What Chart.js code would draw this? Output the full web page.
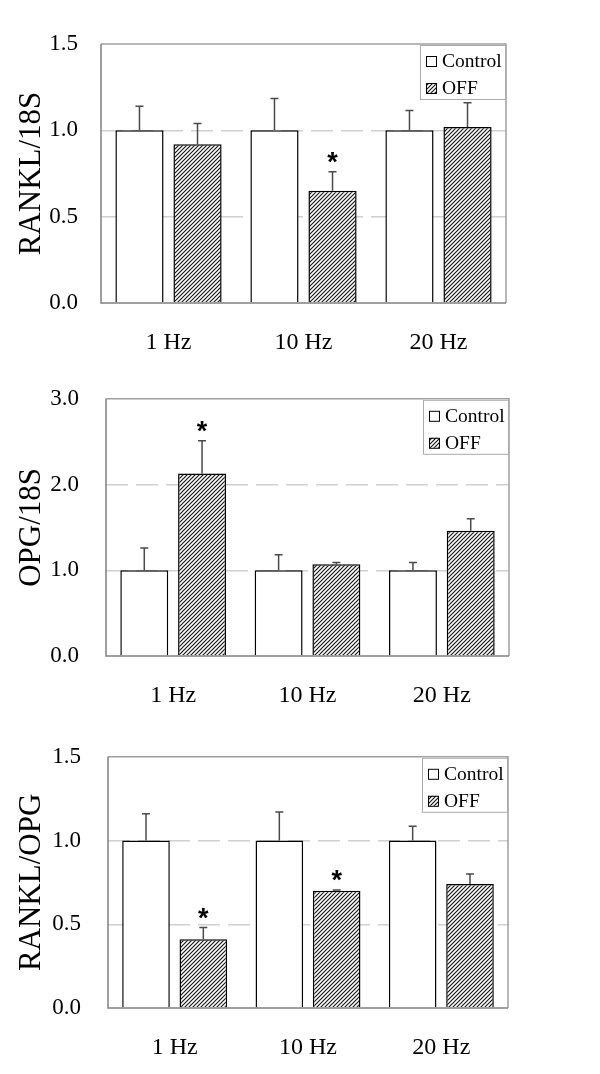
<!DOCTYPE html>
<html>
<head>
<meta charset="utf-8">
<script src="https://cdn.jsdelivr.net/npm/chart.js@4.4.1/dist/chart.umd.min.js"></script>
<style>
  body { margin: 0; background: #fff; }
  .panel { position: absolute; left: 0; width: 600px; height: 358px; }
</style>
</head>
<body>
<div class="panel" style="top:0"><canvas id="c1"></canvas></div>
<div class="panel" style="top:358px"><canvas id="c2"></canvas></div>
<div class="panel" style="top:716px"><canvas id="c3"></canvas></div>
<script>
const categories = ['1 Hz', '10 Hz', '20 Hz'];
const seriesNames = ['Control', 'OFF'];

// RANKL/18S
const ranklControl = [1.0, 1.0, 1.0];
const ranklControlErr = [0.14, 0.185, 0.115];
const ranklOff = [0.92, 0.65, 1.02];
const ranklOffErr = [0.12, 0.11, 0.14];
const ranklOffSig = [false, true, false];

// OPG/18S
const opgControl = [1.0, 1.0, 1.0];
const opgControlErr = [0.26, 0.18, 0.09];
const opgOff = [2.13, 1.07, 1.46];
const opgOffErr = [0.38, 0.02, 0.14];
const opgOffSig = [true, false, false];

// RANKL/OPG
const ratioControl = [1.0, 1.0, 1.0];
const ratioControlErr = [0.16, 0.17, 0.085];
const ratioOff = [0.41, 0.70, 0.74];
const ratioOffErr = [0.07, 0.005, 0.06];
const ratioOffSig = [true, true, false];

const noSig = [false, false, false];
const serif = "'Liberation Serif', 'Times New Roman', serif";

// diagonal hatch fill for the OFF bars
function makeHatch() {
  const s = 4;
  const c = document.createElement('canvas');
  c.width = s; c.height = s;
  const g = c.getContext('2d');
  g.fillStyle = '#fff';
  g.fillRect(0, 0, s, s);
  g.strokeStyle = '#1a1a1a';
  g.lineWidth = 1.2;
  g.beginPath();
  g.moveTo(0, s); g.lineTo(s, 0);
  g.moveTo(-1, 1); g.lineTo(1, -1);
  g.moveTo(s - 1, s + 1); g.lineTo(s + 1, s - 1);
  g.stroke();
  return g.createPattern(c, 'repeat');
}
const hatch = makeHatch();

const framePlugin = {
  id: 'frame',
  afterDatasetsDraw(chart) {
    const { ctx, chartArea: a } = chart;
    ctx.save();
    ctx.lineWidth = 1.5;
    ctx.strokeStyle = '#a0a0a0';
    ctx.beginPath();
    ctx.moveTo(a.left, a.top); ctx.lineTo(a.right, a.top); ctx.lineTo(a.right, a.bottom);
    ctx.stroke();
    ctx.strokeStyle = '#808080';
    ctx.beginPath();
    ctx.moveTo(a.left, a.top); ctx.lineTo(a.left, a.bottom); ctx.lineTo(a.right, a.bottom);
    ctx.stroke();
    ctx.restore();
  }
};

const errorPlugin = {
  id: 'errorBars',
  afterDatasetsDraw(chart) {
    const { ctx } = chart;
    const y = chart.scales.y;
    ctx.save();
    chart.data.datasets.forEach((ds, i) => {
      chart.getDatasetMeta(i).data.forEach((bar, j) => {
        const top = y.getPixelForValue(ds.data[j] + ds.errors[j]);
        ctx.strokeStyle = '#4a4a4a';
        ctx.lineWidth = 1.5;
        ctx.beginPath();
        ctx.moveTo(bar.x, bar.y);
        ctx.lineTo(bar.x, top);
        ctx.moveTo(bar.x - 4, top);
        ctx.lineTo(bar.x + 4, top);
        ctx.stroke();
        if (ds.stars[j]) {
          ctx.fillStyle = '#000';
          ctx.font = "bold 27px 'Liberation Sans', Arial, sans-serif";
          ctx.textAlign = 'center';
          ctx.textBaseline = 'alphabetic';
          ctx.fillText('*', bar.x, top - 1);
        }
      });
    });
    ctx.restore();
  }
};

const legendPlugin = {
  id: 'boxLegend',
  afterDraw(chart) {
    const { ctx, chartArea: a } = chart;
    const w = 85, h = 54;
    const x = a.right - w - 1, t = a.top + 1;
    ctx.save();
    ctx.fillStyle = '#fff';
    ctx.fillRect(x, t, w, h);
    ctx.strokeStyle = '#aaa';
    ctx.lineWidth = 1;
    ctx.strokeRect(x + 0.5, t + 0.5, w, h);
    chart.data.datasets.forEach((ds, i) => {
      const cy = t + 16 + i * 27;
      ctx.fillStyle = ds.backgroundColor;
      ctx.fillRect(x + 6, cy - 5, 10, 10);
      ctx.strokeStyle = '#000';
      ctx.strokeRect(x + 6.5, cy - 4.5, 10, 10);
      ctx.fillStyle = '#000';
      ctx.font = '19.5px ' + serif;
      ctx.textAlign = 'left';
      ctx.textBaseline = 'middle';
      ctx.fillText(ds.label, x + 22, cy + 1);
    });
    ctx.restore();
  }
};

function buildChart(id, p) {
  return new Chart(document.getElementById(id), {
    type: 'bar',
    data: {
      labels: categories,
      datasets: [
        { label: seriesNames[0], data: p.control, errors: p.controlErr, stars: noSig,
          backgroundColor: '#fff', borderColor: '#000', borderWidth: 1.5 },
        { label: seriesNames[1], data: p.off, errors: p.offErr, stars: p.offSig,
          backgroundColor: hatch, borderColor: '#000', borderWidth: 1.5 }
      ]
    },
    options: {
      responsive: true,
      maintainAspectRatio: false,
      animation: false,
      categoryPercentage: 0.86,
      barPercentage: 0.83,
      layout: { padding: { top: p.top, right: p.right, left: 0, bottom: 0 } },
      plugins: { legend: { display: false }, tooltip: { enabled: false } },
      scales: {
        x: {
          grid: { display: false, drawTicks: false },
          border: { display: false },
          ticks: { padding: 25, color: '#000', font: { family: serif, size: 24 } },
          afterFit: s => { s.height = p.xH; }
        },
        y: {
          min: 0,
          max: p.max,
          ticks: {
            stepSize: p.step,
            padding: p.tickPad,
            color: '#000',
            font: { family: serif, size: 23 },
            callback: v => v.toFixed(1)
          },
          grid: {
            drawTicks: false,
            lineWidth: 1.5,
            color: c => (c.index === 0 || c.tick.value === p.max) ? 'rgba(0,0,0,0)' : '#cfcfcf'
          },
          border: { display: false, dash: [22, 8] },
          title: {
            display: true,
            text: p.title,
            color: '#000',
            font: { family: serif, size: 31 },
            padding: { top: 13, bottom: 0 }
          },
          afterFit: s => { s.width = p.yW; }
        }
      }
    },
    plugins: [framePlugin, errorPlugin, legendPlugin]
  });
}

buildChart('c1', {
  title: 'RANKL/18S', max: 1.5, step: 0.5,
  control: ranklControl, controlErr: ranklControlErr,
  off: ranklOff, offErr: ranklOffErr, offSig: ranklOffSig,
  top: 44, right: 94, yW: 101, xH: 55, tickPad: 23
});
buildChart('c2', {
  title: 'OPG/18S', max: 3, step: 1,
  control: opgControl, controlErr: opgControlErr,
  off: opgOff, offErr: opgOffErr, offSig: opgOffSig,
  top: 35, right: 91, yW: 106, xH: 60, tickPad: 27
});
buildChart('c3', {
  title: 'RANKL/OPG', max: 1.5, step: 0.5,
  control: ratioControl, controlErr: ratioControlErr,
  off: ratioOff, offErr: ratioOffErr, offSig: ratioOffSig,
  top: 29, right: 92, yW: 108, xH: 66, tickPad: 27
});
</script>
</body>
</html>
